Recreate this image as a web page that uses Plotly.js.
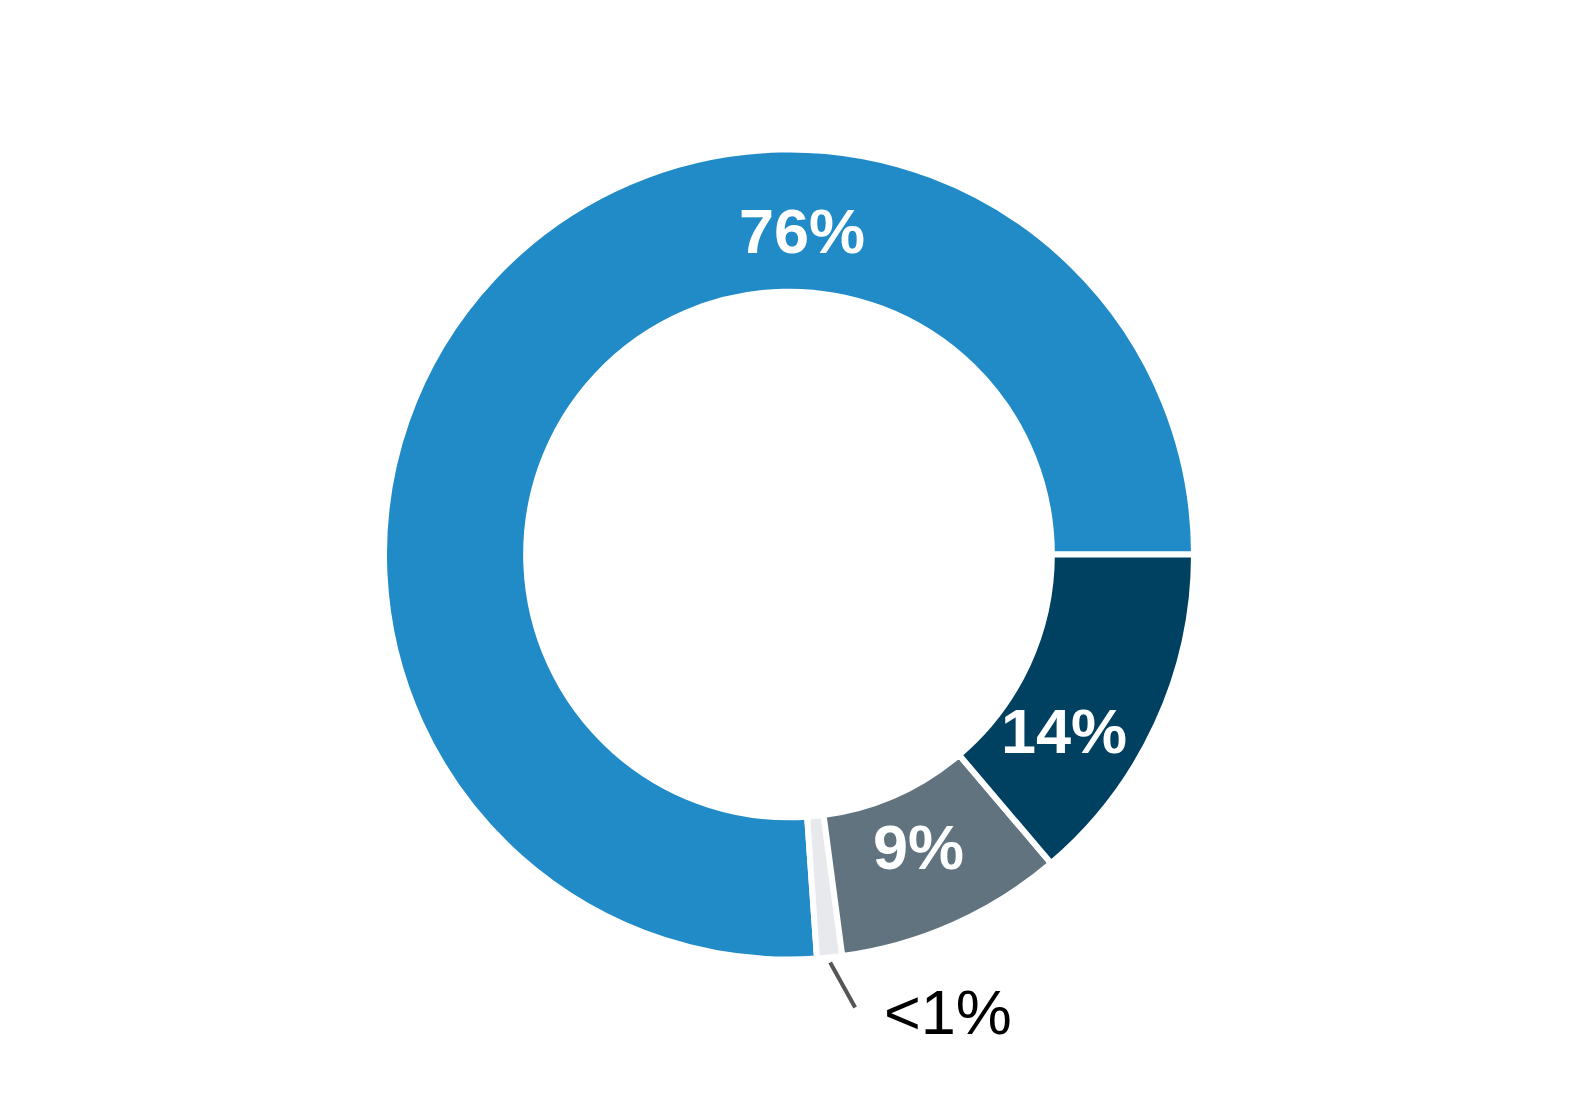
<!DOCTYPE html>
<html>
<head>
<meta charset="utf-8">
<script src="https://cdn.plot.ly/plotly-3.0.1.min.js"></script>
<style>html,body{margin:0;padding:0;background:#fff;}#chart{width:1578px;height:1110px;}</style>
</head>
<body>
<div id="chart"></div>
<script>
const categories = ['Segment A', 'Segment B', 'Segment C', 'Segment D'];
const values = [76.1, 1.0, 9.1, 13.8];
const valueLabels = ['76%', '<1%', '9%', '14%'];
const colors = ['#208BC7', '#E8E9EC', '#60737E', '#004061'];
const labelColors = ['#FFFFFF', '#000000', '#FFFFFF', '#FFFFFF'];
const labelWeights = ['bold', 'normal', 'bold', 'bold'];

const W = 1578, H = 1110;
const cx = 789, cy = 554.5, R = 405;
// label anchor positions (pixels from top-left)
const labelPos = [[802, 231], [948, 1012], [918, 847], [1064, 731]];

const annotations = valueLabels.map((t, i) => ({
  text: t, showarrow: false, xref: 'paper', yref: 'paper',
  x: labelPos[i][0] / W, y: 1 - labelPos[i][1] / H,
  xanchor: 'center', yanchor: 'middle',
  font: {family: "'Liberation Sans', Arial, Helvetica, sans-serif", size: 63, color: labelColors[i], weight: labelWeights[i]}
}));

const total = values.reduce((a, b) => a + b, 0);
// plotly (counterclockwise) ends the first slice at the rotation angle;
// rotate so the first slice starts at 3 o'clock
const rotation = 90 + 360 * (1 - values[0] / total);

// leader line for the small slice, starting at its mid angle
const midFrac = values[0] / total + values[1] / total / 2;
const ang = midFrac * 2 * Math.PI; // counterclockwise from 3 o'clock
const sx = cx + (R + 5) * Math.cos(ang), sy = cy - (R + 5) * Math.sin(ang);
const ex = sx + 25, ey = sy + 45;

const trace = {
  type: 'pie', labels: categories, values: values, sort: false,
  direction: 'counterclockwise', rotation: rotation, hole: 0.649,
  textinfo: 'none', hoverinfo: 'none', showlegend: false,
  marker: {colors: colors, line: {color: '#FFFFFF', width: 6}},
  domain: {x: [(cx - R) / W, (cx + R) / W], y: [1 - (cy + R) / H, 1 - (cy - R) / H]}
};

Plotly.newPlot('chart', [trace], {
  width: W, height: H, margin: {l: 0, r: 0, t: 0, b: 0},
  paper_bgcolor: '#FFFFFF', showlegend: false,
  font: {family: "'Liberation Sans', Arial, Helvetica, sans-serif"},
  annotations: annotations,
  shapes: [{type: 'line', xref: 'paper', yref: 'paper',
    x0: sx / W, y0: 1 - sy / H, x1: ex / W, y1: 1 - ey / H,
    line: {color: '#555555', width: 4}}]
}, {staticPlot: true});
</script>
</body>
</html>
